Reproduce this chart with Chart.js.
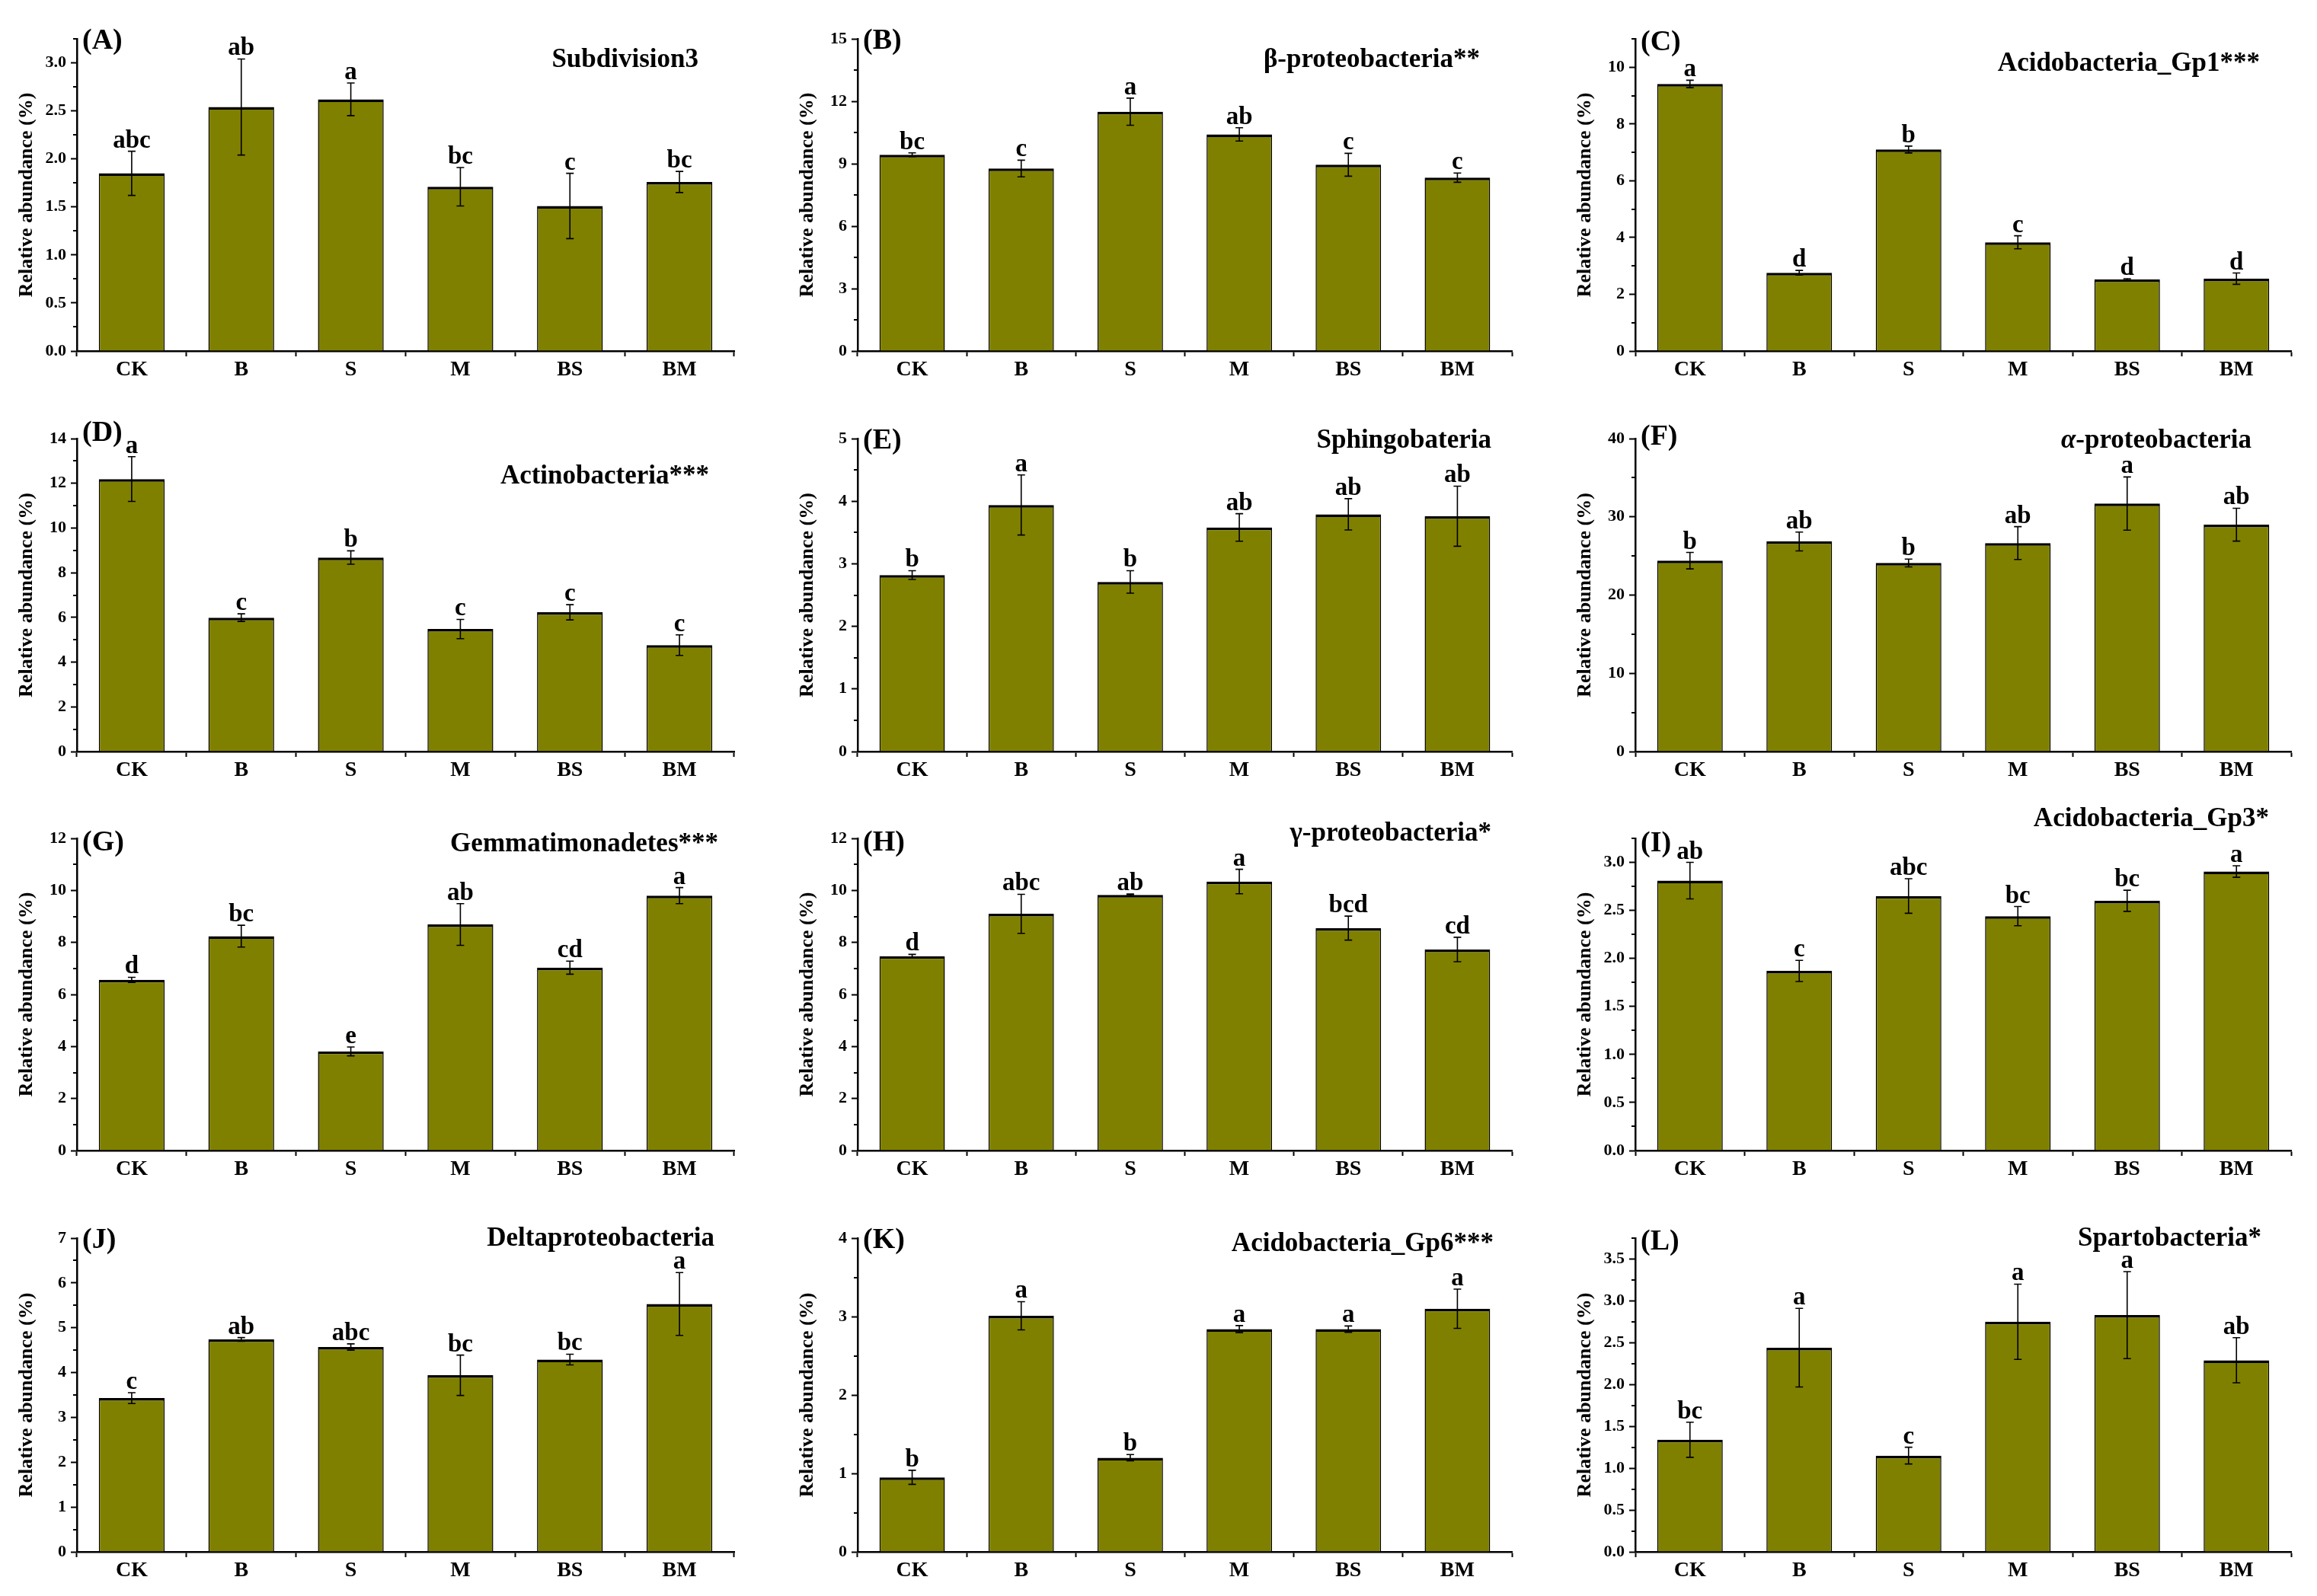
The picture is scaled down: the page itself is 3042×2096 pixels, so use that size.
<!DOCTYPE html>
<html>
<head>
<meta charset="utf-8">
<script src="https://cdn.jsdelivr.net/npm/chart.js@4.4.1/dist/chart.umd.min.js"></script>
<style>
    html, body { margin: 0; padding: 0; background: #fff; }
    #wrap { position: relative; width: 3042px; height: 2096px; overflow: hidden; background: #fff; }
    #wrap canvas { position: absolute; }
</style>
</head>
<body>
<div id="wrap"></div>
<script>
// Categorías (tratamientos)
const categories = ['CK', 'B', 'S', 'M', 'BS', 'BM'];

// Valores medios, errores y letras de cada panel
const valuesA = [1.85, 2.54, 2.62, 1.71, 1.51, 1.76];
const errorsA = [0.23, 0.50, 0.17, 0.20, 0.34, 0.11];
const lettersA = ['abc', 'ab', 'a', 'bc', 'c', 'bc'];

const valuesB = [9.43, 8.77, 11.50, 10.41, 8.95, 8.33];
const errorsB = [0.09, 0.40, 0.65, 0.32, 0.55, 0.22];
const lettersB = ['bc', 'c', 'a', 'ab', 'c', 'c'];

const valuesC = [9.41, 2.76, 7.10, 3.83, 2.52, 2.55];
const errorsC = [0.13, 0.08, 0.12, 0.23, 0.03, 0.20];
const lettersC = ['a', 'd', 'b', 'c', 'd', 'd'];

const valuesD = [12.19, 5.99, 8.68, 5.48, 6.23, 4.76];
const errorsD = [1.00, 0.17, 0.30, 0.43, 0.34, 0.46];
const lettersD = ['a', 'c', 'b', 'c', 'c', 'c'];

const valuesE = [2.82, 3.94, 2.71, 3.58, 3.79, 3.76];
const errorsE = [0.07, 0.48, 0.18, 0.22, 0.25, 0.48];
const lettersE = ['b', 'a', 'b', 'ab', 'ab', 'ab'];

const valuesF = [24.4, 26.85, 24.1, 26.65, 31.7, 29.0];
const errorsF = [1.05, 1.2, 0.5, 2.1, 3.4, 2.1];
const lettersF = ['b', 'ab', 'b', 'ab', 'a', 'ab'];

const valuesG = [6.56, 8.24, 3.81, 8.69, 7.03, 9.80];
const errorsG = [0.10, 0.42, 0.17, 0.80, 0.25, 0.31];
const lettersG = ['d', 'bc', 'e', 'ab', 'cd', 'a'];

const valuesH = [7.47, 9.10, 9.83, 10.34, 8.55, 7.73];
const errorsH = [0.07, 0.75, 0.03, 0.47, 0.46, 0.47];
const lettersH = ['d', 'abc', 'ab', 'a', 'bcd', 'cd'];

const valuesI = [2.81, 1.87, 2.65, 2.44, 2.60, 2.905];
const errorsI = [0.19, 0.11, 0.18, 0.10, 0.11, 0.06];
const lettersI = ['ab', 'c', 'abc', 'bc', 'bc', 'a'];

const valuesJ = [3.43, 4.74, 4.57, 3.94, 4.29, 5.53];
const errorsJ = [0.12, 0.04, 0.07, 0.45, 0.12, 0.70];
const lettersJ = ['c', 'ab', 'abc', 'bc', 'bc', 'a'];

const valuesK = [0.95, 3.01, 1.20, 2.84, 2.84, 3.10];
const errorsK = [0.09, 0.18, 0.04, 0.045, 0.04, 0.25];
const lettersK = ['b', 'a', 'b', 'a', 'a', 'a'];

const valuesL = [1.34, 2.44, 1.15, 2.75, 2.83, 2.29];
const errorsL = [0.21, 0.47, 0.10, 0.45, 0.52, 0.27];
const lettersL = ['bc', 'a', 'c', 'a', 'a', 'ab'];

// Títulos y escalas de los ejes
const panelNames = ['(A)', '(B)', '(C)', '(D)', '(E)', '(F)', '(G)', '(H)', '(I)', '(J)', '(K)', '(L)'];
const panelTitles = ['Subdivision3', 'β-proteobacteria**', 'Acidobacteria_Gp1***', 'Actinobacteria***',
    'Sphingobateria', 'α-proteobacteria', 'Gemmatimonadetes***', 'γ-proteobacteria*',
    'Acidobacteria_Gp3*', 'Deltaproteobacteria', 'Acidobacteria_Gp6***', 'Spartobacteria*'];
const yTitle = 'Relative abundance (%)';
const yMax = [3.25, 15, 11, 14, 5, 40, 12, 12, 3.25, 7, 4, 3.75];
const yMajor = [0.5, 3, 2, 2, 1, 10, 2, 2, 0.5, 1, 1, 0.5];
const yDecimals = [1, 0, 0, 0, 0, 0, 0, 0, 1, 0, 0, 1];

const allValues = [valuesA, valuesB, valuesC, valuesD, valuesE, valuesF, valuesG, valuesH, valuesI, valuesJ, valuesK, valuesL];
const allErrors = [errorsA, errorsB, errorsC, errorsD, errorsE, errorsF, errorsG, errorsH, errorsI, errorsJ, errorsK, errorsL];
const allLetters = [lettersA, lettersB, lettersC, lettersD, lettersE, lettersF, lettersG, lettersH, lettersI, lettersJ, lettersK, lettersL];

// Posición de cada área de gráfico en la página
const colLeft = [101, 1126, 2147];
const colRight = [964, 1985, 3008];
const rowTop = [51, 576, 1101, 1626];
const rowBottom = [461, 987, 1511, 2038];
const titleDx = [-47, -42, -41, -33, -27, -52, -21, -27, -29, -26, -24, -39];
const titleDy = [37, 37, 42, 59, 12, 12, 17, 3, -16, 10, 17, 10];
const labelDy = [13, 13, 15, 3, 13, 8, 16, 16, 17, 13, 13, 15];

const FONT = '"Liberation Serif", "Times New Roman", serif';
const OLIVE = '#808000';
const PAD_LEFT = 101, PAD_TOP = 51, PAD_RIGHT = 30, AXIS_H = 62;

function isMajor(v, p) {
    const r = v / yMajor[p];
    return Math.abs(r - Math.round(r)) < 1e-6;
}

// Plugin: barras de error, letras, ticks menores, etiqueta y título del panel
const decorPlugin = {
    id: 'decor',
    afterDatasetsDraw(chart) {
        const p = chart.options.plugins.decor.panel;
        const ctx = chart.ctx;
        const y = chart.scales.y;
        const meta = chart.getDatasetMeta(0);
        ctx.save();
        ctx.strokeStyle = '#000';
        ctx.lineWidth = 1.6;
        ctx.fillStyle = '#000';
        ctx.font = 'bold 33px ' + FONT;
        ctx.textAlign = 'center';
        ctx.textBaseline = 'alphabetic';
        meta.data.forEach(function (bar, k) {
            const v = allValues[p][k];
            const e = allErrors[p][k];
            const yt = y.getPixelForValue(v + e);
            const yb = y.getPixelForValue(v - e);
            ctx.beginPath();
            ctx.moveTo(bar.x, yt); ctx.lineTo(bar.x, yb);
            ctx.moveTo(bar.x - 5, yt); ctx.lineTo(bar.x + 5, yt);
            ctx.moveTo(bar.x - 5, yb); ctx.lineTo(bar.x + 5, yb);
            ctx.stroke();
            ctx.fillText(allLetters[p][k], bar.x, yt - 5);
        });
        ctx.restore();
    },
    afterDraw(chart) {
        const p = chart.options.plugins.decor.panel;
        const ctx = chart.ctx;
        const area = chart.chartArea;
        const y = chart.scales.y;
        ctx.save();
        // ticks menores
        ctx.strokeStyle = '#000';
        ctx.lineWidth = 2;
        y.ticks.forEach(function (t) {
            if (!isMajor(t.value, p)) {
                const py = Math.round(y.getPixelForValue(t.value));
                ctx.beginPath();
                ctx.moveTo(area.left - 5, py);
                ctx.lineTo(area.left, py);
                ctx.stroke();
            }
        });
        ctx.fillStyle = '#000';
        // etiqueta (A), (B)...
        ctx.font = 'bold 38px ' + FONT;
        ctx.textAlign = 'left';
        ctx.textBaseline = 'alphabetic';
        ctx.fillText(panelNames[p], area.left + 7, area.top + labelDy[p]);
        // título del panel, alineado a la derecha (letra griega alfa en cursiva)
        const title = panelTitles[p];
        const bold = 'bold 35px ' + FONT;
        const italic = 'italic bold 35px ' + FONT;
        let parts = [[title, bold]];
        if (title.charAt(0) === 'α') {
            parts = [['α', italic], [title.slice(1), bold]];
        }
        let total = 0;
        parts.forEach(function (pt) { ctx.font = pt[1]; total += ctx.measureText(pt[0]).width; });
        let x = area.right + titleDx[p] - total;
        parts.forEach(function (pt) {
            ctx.font = pt[1];
            ctx.fillText(pt[0], x, area.top + titleDy[p]);
            x += ctx.measureText(pt[0]).width;
        });
        ctx.restore();
    }
};

const wrap = document.getElementById('wrap');

for (let p = 0; p < 12; p++) {
    const col = p % 3, row = Math.floor(p / 3);
    const plotW = colRight[col] - colLeft[col];
    const plotH = rowBottom[row] - rowTop[row];
    const canvas = document.createElement('canvas');
    canvas.width = plotW + PAD_LEFT + PAD_RIGHT;
    canvas.height = plotH + PAD_TOP + AXIS_H;
    canvas.style.left = (colLeft[col] - PAD_LEFT) + 'px';
    canvas.style.top = (rowTop[row] - PAD_TOP) + 'px';
    canvas.style.width = canvas.width + 'px';
    canvas.style.height = canvas.height + 'px';
    wrap.appendChild(canvas);

    new Chart(canvas.getContext('2d'), {
        type: 'bar',
        data: {
            labels: categories,
            datasets: [{
                data: allValues[p],
                backgroundColor: OLIVE,
                borderColor: '#000',
                borderWidth: { top: 3.5, left: 1.5, right: 1.5, bottom: 0 },
                categoryPercentage: 1,
                barPercentage: 0.6
            }]
        },
        options: {
            responsive: false,
            animation: false,
            devicePixelRatio: 1,
            layout: { padding: { left: 0, top: PAD_TOP, right: PAD_RIGHT, bottom: 0 } },
            plugins: {
                legend: { display: false },
                tooltip: { enabled: false },
                decor: { panel: p }
            },
            scales: {
                x: {
                    offset: true,
                    grid: { drawOnChartArea: false, offset: true, tickLength: 7, tickWidth: 2, tickColor: '#000' },
                    border: { color: '#000', width: 2.5 },
                    ticks: { color: '#000', padding: 1, maxRotation: 0, font: { family: FONT, weight: 'bold', size: 28 } },
                    afterFit: function (s) { s.height = AXIS_H; }
                },
                y: {
                    min: 0,
                    max: yMax[p],
                    grid: {
                        drawOnChartArea: false, tickLength: 8, tickWidth: 2,
                        tickColor: function (c) { return c.tick && isMajor(c.tick.value, p) ? '#000' : 'rgba(0,0,0,0)'; }
                    },
                    border: { color: '#000', width: 2.5 },
                    ticks: {
                        stepSize: yMajor[p] / 2,
                        autoSkip: false,
                        color: '#000',
                        padding: 6,
                        font: { family: FONT, weight: 'bold', size: 22 },
                        callback: function (v) { return isMajor(v, p) ? Number(v).toFixed(yDecimals[p]) : ''; }
                    },
                    title: {
                        display: true, text: yTitle, color: '#000',
                        font: { family: FONT, weight: 'bold', size: 26 },
                        padding: { top: 20, bottom: 0 }
                    },
                    afterFit: function (s) { s.width = PAD_LEFT; }
                }
            }
        },
        plugins: [decorPlugin]
    });
}
</script>
</body>
</html>
